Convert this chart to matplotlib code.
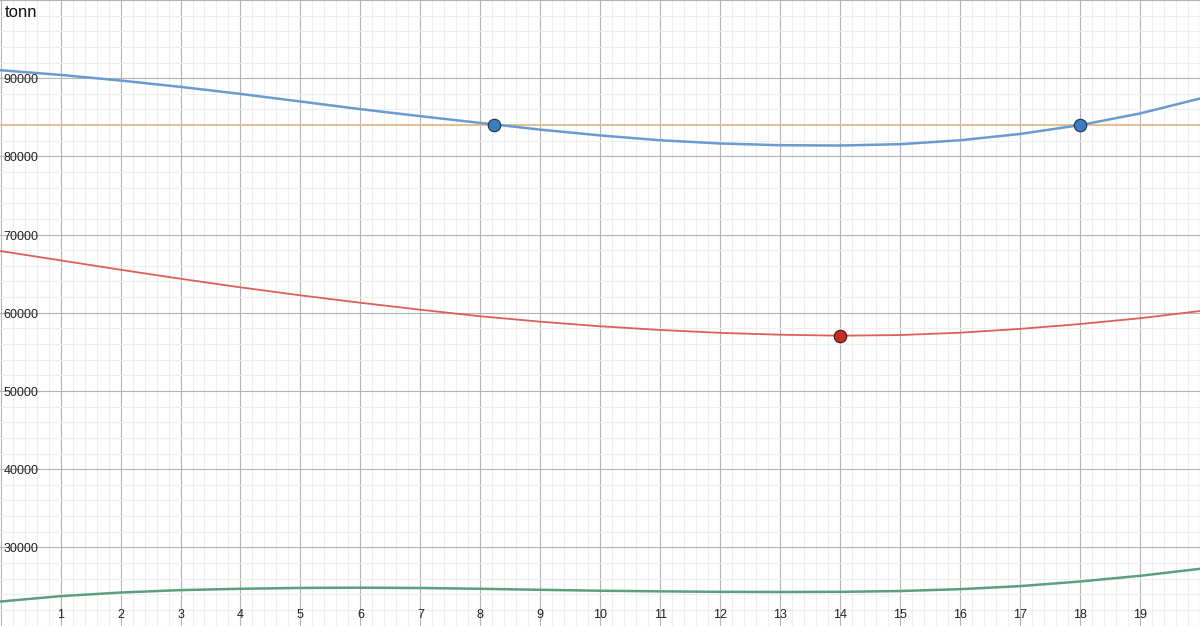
import numpy as np
import matplotlib.pyplot as plt

# values at x = 0, 1, ..., 20
x = list(range(21))
blue = [91020, 90420, 89700, 88890, 87990, 87020, 86040, 85140, 84280, 83420, 82680,
        82060, 81650, 81430, 81390, 81560, 82060, 82870, 84000, 85490, 87400]
red = [67890, 66700, 65500, 64350, 63250, 62230, 61280, 60390, 59550, 58860, 58270,
       57800, 57430, 57190, 57070, 57150, 57450, 57940, 58560, 59300, 60220]
green = [23070, 23760, 24220, 24530, 24700, 24810, 24840, 24800, 24700, 24570, 24450,
         24370, 24310, 24290, 24310, 24410, 24650, 25040, 25630, 26360, 27250]
level = 84000

blue_pts_x = [8.23, 18]
blue_pts_y = [84000, 84000]
red_pts_x = [14]
red_pts_y = [57070]

x_labels = list(range(1, 20))
y_labels = [30000, 40000, 50000, 60000, 70000, 80000, 90000]

plt.rcParams['font.family'] = ['Liberation Sans', 'DejaVu Sans']

fig = plt.figure(figsize=(12, 6.26), dpi=100)
ax = fig.add_axes([0, 0, 1, 1])
ax.set_xlim(-0.01, 19.99)
ax.set_ylim(19940, 99970)

# grid: major every unit / 10000, minor 5 per major
ax.set_xticks(np.arange(0, 21, 1))
ax.set_xticks(np.arange(0, 20.01, 0.2), minor=True)
ax.set_yticks(np.arange(20000, 100001, 10000))
ax.set_yticks(np.arange(20000, 100001, 2000), minor=True)
ax.grid(which='minor', color='#eeeeee', lw=0.8)
ax.grid(which='major', color='#b4b4b4', lw=0.8)
ax.tick_params(which='both', length=0, labelbottom=False, labelleft=False)
for s in ax.spines.values():
    s.set_visible(False)
ax.set_axisbelow(True)

ax.axhline(level, color='#e3bb8a', lw=1.3, zorder=2)
ax.plot(x, blue, color='#6a9bd0', lw=1.8, zorder=3)
ax.plot(x, red, color='#dd5f5a', lw=1.3, zorder=3)
ax.plot(x, green, color='#5c9f80', lw=1.8, zorder=3)

ax.plot(blue_pts_x, blue_pts_y, 'o', ms=9, color='#3d7dbf', mec='#1f3550', mew=0.8, zorder=4)
ax.plot(red_pts_x, red_pts_y, 'o', ms=9, color='#c42e22', mec='#4a1510', mew=0.8, zorder=4)

# axis labels along the edges
for v in x_labels:
    ax.text(v, 0.017, str(v), transform=ax.get_xaxis_transform(),
            ha='center', va='center', fontsize=9, color='#222222')
for v in y_labels:
    ax.text(0.003, v - 250, str(v), transform=ax.get_yaxis_transform(),
            ha='left', va='center', fontsize=9, color='#222222')
ax.text(0.004, 0.98, 'tonn', transform=ax.transAxes, ha='left', va='center',
        fontsize=12, color='#111111')

fig.savefig('out.png', dpi=100)
